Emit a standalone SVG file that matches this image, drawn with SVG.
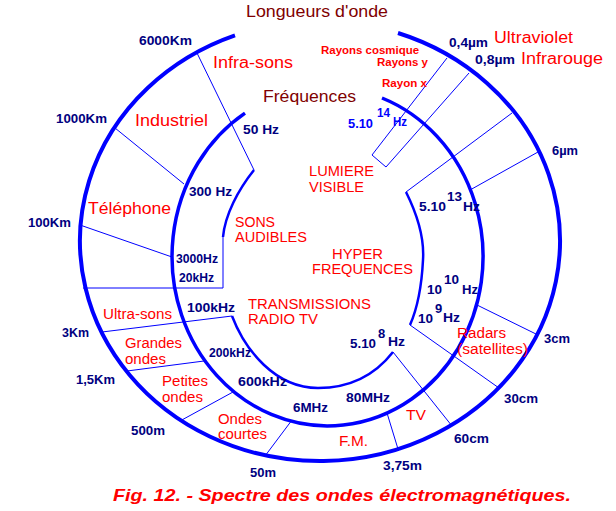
<svg xmlns="http://www.w3.org/2000/svg" width="616" height="511" viewBox="0 0 616 511">
<style>
text{font-family:"Liberation Sans",Arial,sans-serif}
.red{fill:#ff0000;font-size:16px}
.redm{fill:#ff0000;font-size:14px}
.dred{fill:#800000;font-size:16px}
.nv{fill:#000080;font-size:13px;font-weight:bold}
.nvs{fill:#000080;font-size:12px;font-weight:bold}
.bl{fill:#0000ff;font-size:13px;font-weight:bold}
.ray{fill:#ff0000;font-size:11px;font-weight:bold}
.cap{fill:#ff0000;font-size:17px;font-weight:bold;font-style:italic}
.thick{fill:none;stroke:#0000ff;stroke-width:4}
.mid{fill:none;stroke:#0000ff;stroke-width:3.5}
.curve{fill:none;stroke:#0000ff;stroke-width:2.5}
.thin{fill:none;stroke:#0000ff;stroke-width:1}
</style>
<rect width="616" height="511" fill="#ffffff"/>
<g id="arcs">
<path class="thick" d="M235,35.3 A240,220 0 1 0 398,33"/>
<path class="mid" d="M245,113.1 A155.5,169.3 0 1 0 382,98"/>
<path class="curve" d="M254,170 C238,190 225,215 223,237"/>
<path class="curve" d="M232,316 C245,350 275,388 318,388 C350,388 375,375 393,352"/>
<path class="curve" d="M406,192 Q425,230 423,260 Q421,300 410,325"/>
</g>
<g id="connectors">
<path class="thin" d="M197,53 L254,170"/>
<path class="thin" d="M115,128 L184,184"/>
<path class="thin" d="M80,225 L172,257"/>
<path class="thin" d="M223,237 L223,288 L83,288"/>
<path class="thin" d="M102,332 L232,316"/>
<path class="thin" d="M127,371 L204,361"/>
<path class="thin" d="M180,421 L233,392"/>
<path class="thin" d="M265,456 L292,420"/>
<path class="thin" d="M398,449 L387,413"/>
<path class="thin" d="M393,352 L452,426"/>
<path class="thin" d="M410,325 L499,388"/>
<path class="thin" d="M477,305 L538,335"/>
<path class="thin" d="M538,152 L470,190"/>
<path class="thin" d="M512,113 L406,192"/>
<path class="thin" d="M447,58 L372,155 L386,167 L469,73"/>
</g>
<g id="titles">
<text class="dred" x="246" y="17" textLength="142" lengthAdjust="spacingAndGlyphs">Longueurs d'onde</text>
<text class="dred" x="263" y="102" textLength="93" lengthAdjust="spacingAndGlyphs">Fréquences</text>
</g>
<g id="wavelengths">
<text class="nv" x="139" y="45" textLength="53" lengthAdjust="spacingAndGlyphs">6000Km</text>
<text class="nv" x="56" y="123" textLength="51" lengthAdjust="spacingAndGlyphs">1000Km</text>
<text class="nv" x="28" y="227" textLength="43" lengthAdjust="spacingAndGlyphs">100Km</text>
<text class="nv" x="62" y="337" textLength="27" lengthAdjust="spacingAndGlyphs">3Km</text>
<text class="nv" x="76" y="384" textLength="39" lengthAdjust="spacingAndGlyphs">1,5Km</text>
<text class="nv" x="131" y="435" textLength="34" lengthAdjust="spacingAndGlyphs">500m</text>
<text class="nv" x="250" y="477" textLength="26" lengthAdjust="spacingAndGlyphs">50m</text>
<text class="nv" x="383" y="470" textLength="39" lengthAdjust="spacingAndGlyphs">3,75m</text>
<text class="nv" x="454" y="443" textLength="35" lengthAdjust="spacingAndGlyphs">60cm</text>
<text class="nv" x="504" y="403" textLength="34" lengthAdjust="spacingAndGlyphs">30cm</text>
<text class="nv" x="544" y="343" textLength="26" lengthAdjust="spacingAndGlyphs">3cm</text>
<text class="nv" x="552" y="155" textLength="26" lengthAdjust="spacingAndGlyphs">6µm</text>
<text class="nv" x="449" y="47" textLength="39" lengthAdjust="spacingAndGlyphs">0,4µm</text>
<text class="nv" x="475" y="64" textLength="40" lengthAdjust="spacingAndGlyphs">0,8µm</text>
</g>
<g id="frequencies">
<text class="nv" x="243" y="134" textLength="36" lengthAdjust="spacingAndGlyphs">50 Hz</text>
<text class="nv" x="189" y="196" textLength="43" lengthAdjust="spacingAndGlyphs">300 Hz</text>
<text class="nvs" x="176" y="263" textLength="42" lengthAdjust="spacingAndGlyphs">3000Hz</text>
<text class="nvs" x="179" y="282" textLength="35" lengthAdjust="spacingAndGlyphs">20kHz</text>
<text class="nv" x="187" y="312" textLength="48" lengthAdjust="spacingAndGlyphs">100kHz</text>
<text class="nvs" x="209" y="357" textLength="42" lengthAdjust="spacingAndGlyphs">200kHz</text>
<text class="nv" x="238" y="386" textLength="49" lengthAdjust="spacingAndGlyphs">600kHz</text>
<text class="nv" x="293" y="412" textLength="35" lengthAdjust="spacingAndGlyphs">6MHz</text>
<text class="nv" x="346" y="402" textLength="44" lengthAdjust="spacingAndGlyphs">80MHz</text>
<text class="nv" x="350" y="348" textLength="26" lengthAdjust="spacingAndGlyphs">5.10</text>
<text class="nv" x="378" y="338">8</text>
<text class="nv" x="388" y="346" textLength="17" lengthAdjust="spacingAndGlyphs">Hz</text>
<text class="nv" x="418" y="323" textLength="15" lengthAdjust="spacingAndGlyphs">10</text>
<text class="nv" x="435" y="313">9</text>
<text class="nv" x="443" y="322" textLength="17" lengthAdjust="spacingAndGlyphs">Hz</text>
<text class="nv" x="427" y="294" textLength="15" lengthAdjust="spacingAndGlyphs">10</text>
<text class="nv" x="444" y="284" textLength="15" lengthAdjust="spacingAndGlyphs">10</text>
<text class="nv" x="462" y="294" textLength="16" lengthAdjust="spacingAndGlyphs">Hz</text>
<text class="nv" x="419" y="211" textLength="27" lengthAdjust="spacingAndGlyphs">5.10</text>
<text class="nv" x="447" y="201" textLength="15" lengthAdjust="spacingAndGlyphs">13</text>
<text class="nv" x="463" y="211" textLength="17" lengthAdjust="spacingAndGlyphs">Hz</text>
<text class="bl" x="348" y="128" textLength="25" lengthAdjust="spacingAndGlyphs">5.10</text>
<text class="bl" x="377" y="117" textLength="13" lengthAdjust="spacingAndGlyphs">14</text>
<text class="bl" x="393" y="126" textLength="14" lengthAdjust="spacingAndGlyphs">Hz</text>
</g>
<g id="bands">
<text class="red" x="213" y="68" textLength="80" lengthAdjust="spacingAndGlyphs">Infra-sons</text>
<text class="red" x="135" y="126" textLength="73" lengthAdjust="spacingAndGlyphs">Industriel</text>
<text class="red" x="88" y="214" textLength="83" lengthAdjust="spacingAndGlyphs">Téléphone</text>
<text class="red" x="494" y="43" textLength="79" lengthAdjust="spacingAndGlyphs">Ultraviolet</text>
<text class="red" x="521" y="64" textLength="82" lengthAdjust="spacingAndGlyphs">Infrarouge</text>
<text class="redm" x="103" y="319" textLength="69" lengthAdjust="spacingAndGlyphs">Ultra-sons</text>
<text class="redm" x="125" y="348" textLength="57" lengthAdjust="spacingAndGlyphs">Grandes</text>
<text class="redm" x="125" y="364" textLength="41" lengthAdjust="spacingAndGlyphs">ondes</text>
<text class="redm" x="162" y="386" textLength="46" lengthAdjust="spacingAndGlyphs">Petites</text>
<text class="redm" x="162" y="402" textLength="41" lengthAdjust="spacingAndGlyphs">ondes</text>
<text class="redm" x="218" y="424" textLength="44" lengthAdjust="spacingAndGlyphs">Ondes</text>
<text class="redm" x="218" y="439" textLength="49" lengthAdjust="spacingAndGlyphs">courtes</text>
<text class="redm" x="339" y="446" textLength="29" lengthAdjust="spacingAndGlyphs">F.M.</text>
<text class="redm" x="406" y="420" textLength="20" lengthAdjust="spacingAndGlyphs">TV</text>
<text class="redm" x="457" y="338" textLength="49" lengthAdjust="spacingAndGlyphs">Radars</text>
<text class="redm" x="457" y="354" textLength="71" lengthAdjust="spacingAndGlyphs">(satellites)</text>
<text class="redm" x="235" y="227" textLength="40" lengthAdjust="spacingAndGlyphs">SONS</text>
<text class="redm" x="235" y="242" textLength="72" lengthAdjust="spacingAndGlyphs">AUDIBLES</text>
<text class="redm" x="309" y="176" textLength="65" lengthAdjust="spacingAndGlyphs">LUMIERE</text>
<text class="redm" x="309" y="192" textLength="55" lengthAdjust="spacingAndGlyphs">VISIBLE</text>
<text class="redm" x="332" y="259" textLength="51" lengthAdjust="spacingAndGlyphs">HYPER</text>
<text class="redm" x="312" y="274" textLength="101" lengthAdjust="spacingAndGlyphs">FREQUENCES</text>
<text class="redm" x="248" y="309" textLength="123" lengthAdjust="spacingAndGlyphs">TRANSMISSIONS</text>
<text class="redm" x="248" y="324" textLength="70" lengthAdjust="spacingAndGlyphs">RADIO TV</text>
<text class="ray" x="321" y="54" textLength="98" lengthAdjust="spacingAndGlyphs">Rayons cosmique</text>
<text class="ray" x="377" y="66" textLength="51" lengthAdjust="spacingAndGlyphs">Rayons y</text>
<text class="ray" x="382" y="87" textLength="45" lengthAdjust="spacingAndGlyphs">Rayon x</text>
</g>
<g id="caption">
<text class="cap" x="113" y="501" textLength="458" lengthAdjust="spacingAndGlyphs">Fig. 12. - Spectre des ondes électromagnétiques.</text>
</g>
</svg>
